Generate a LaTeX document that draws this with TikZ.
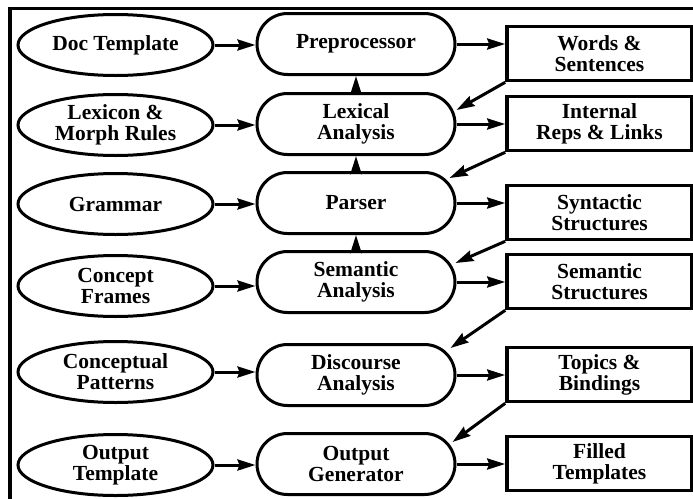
\documentclass[tikz,border=0pt]{standalone}
\usepackage{fontspec}
\setmainfont{Liberation Serif}[BoldFont={Liberation Serif Bold}]
\newfontfamily\diagfont{Liberation Serif}[BoldFont={Liberation Serif Bold}]
\usetikzlibrary{shapes.geometric,shapes.misc,arrows.meta,calc}
\begin{document}
\begin{tikzpicture}[x=1pt,y=-1pt,
  every node/.style={font=\diagfont\bfseries\fontsize{21.5}{21}\selectfont, align=center, inner sep=0pt},
  srcbox/.style={ellipse, draw, line width=3pt, minimum width=195pt, minimum height=61pt},
  procbox/.style={rounded rectangle, draw, line width=3pt, minimum width=198pt, minimum height=61pt},
  outbox/.style={rectangle, draw, line width=3.6pt, minimum width=185pt, minimum height=54pt},
  arr/.style={line width=3pt, -{Stealth[length=18pt,width=11pt,inset=2pt]}}]
\useasboundingbox (0,0) rectangle (693,498);
\draw[line width=3pt] (10,8) -- (694,8);
\draw[line width=3.6pt] (10,6.5) -- (10,499);
% sources
\node[srcbox] (e1) at (115.5,45) {Doc Template};
\node[srcbox] (e2) at (115.5,125) {Lexicon \&\\Morph Rules};
\node[srcbox] (e3) at (115.5,204) {Grammar};
\node[srcbox] (e4) at (115.5,286) {Concept\\Frames};
\node[srcbox] (e5) at (115.5,372) {Conceptual\\Patterns};
\node[srcbox] (e6) at (115.5,465) {Output\\Template};
% processes
\node[procbox] (p1) at (356,44) {Preprocessor};
\node[procbox] (p2) at (356,124) {Lexical\\Analysis};
\node[procbox] (p3) at (356,203) {Parser};
\node[procbox] (p4) at (356,282) {Semantic\\Analysis};
\node[procbox] (p5) at (356,375) {Discourse\\Analysis};
\node[procbox] (p6) at (356,464) {Output\\Generator};
% outputs
\node[outbox] (o1) at (599.5,53.5) {Words \&\\Sentences};
\node[outbox] (o2) at (599.5,123.5) {Internal\\Reps \& Links};
\node[outbox] (o3) at (599.5,212.5) {Syntactic\\Structures};
\node[outbox] (o4) at (599.5,281.5) {Semantic\\Structures};
\node[outbox] (o5) at (599.5,374.5) {Topics \&\\Bindings};
\node[outbox] (o6) at (599.5,463.5) {Filled\\Templates};
% source -> process -> output
\foreach \i in {1,...,6}{
  \draw[arr] (e\i.east) -- (e\i.east -| p\i.west);
  \draw[arr] (p\i.east) -- (p\i.east -| o\i.west);
}
% upward arrows
\draw[arr] (p2.north) -- (p1.south);
\draw[arr] (p3.north) -- (p2.south);
\draw[arr] (p4.north) -- (p3.south);
% diagonal feedback
\draw[arr] (o1.south west) -- ($(p2.east)+(0,-14)$);
\draw[arr] (o2.south west) -- ($(p3.east)+(-7,-25)$);
\draw[arr] (o3.south west) -- ($(p4.east)+(-1,-19)$);
\draw[arr] (o4.south west) -- ($(p5.east)+(-6,-27)$);
\draw[arr] (o5.south west) -- ($(p6.east)+(-4,-22)$);
\end{tikzpicture}
\end{document}
